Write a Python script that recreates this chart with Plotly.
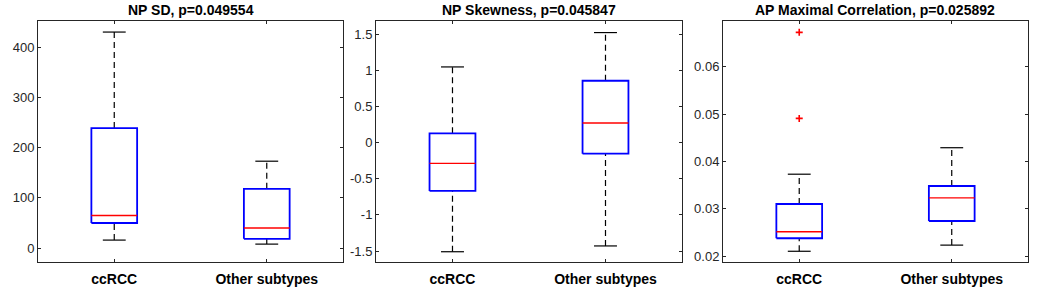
import plotly.graph_objects as go

categories = ["ccRCC", "Other subtypes"]
titles = ["NP SD, p=0.049554", "NP Skewness, p=0.045847", "AP Maximal Correlation, p=0.025892"]

# per panel: [ccRCC, Other]
sd_lower = [16, 8]
sd_q1 = [50, 18.5]
sd_median = [65, 40]
sd_q3 = [239, 118]
sd_upper = [430, 173]

sk_lower = [-1.51, -1.43]
sk_q1 = [-0.67, -0.155]
sk_median = [-0.288, 0.27]
sk_q3 = [0.127, 0.854]
sk_upper = [1.045, 1.52]

ap_lower = [0.0210, 0.0223]
ap_q1 = [0.02375, 0.0274]
ap_median = [0.02514, 0.0323]
ap_q3 = [0.0310, 0.0348]
ap_upper = [0.0373, 0.0429]
ap_outliers_x = [1, 1]
ap_outliers_y = [0.0673, 0.0491]

sd_ticks = [0, 100, 200, 300, 400]
sk_ticks = [-1.5, -1, -0.5, 0, 0.5, 1, 1.5]
sk_ticktext = ["-1.5", "-1", "-0.5", "0", "0.5", "1", "1.5"]
ap_ticks = [0.02, 0.03, 0.04, 0.05, 0.06]

panels = [
    dict(lower=sd_lower, q1=sd_q1, med=sd_median, q3=sd_q3, upper=sd_upper,
         yrange=[-27.6, 452], ticks=sd_ticks, ticktext=[str(t) for t in sd_ticks]),
    dict(lower=sk_lower, q1=sk_q1, med=sk_median, q3=sk_q3, upper=sk_upper,
         yrange=[-1.652, 1.68], ticks=sk_ticks, ticktext=sk_ticktext),
    dict(lower=ap_lower, q1=ap_q1, med=ap_median, q3=ap_q3, upper=ap_upper,
         yrange=[0.01873, 0.0697], ticks=ap_ticks, ticktext=["0.02", "0.03", "0.04", "0.05", "0.06"]),
]

domains = [[0.0, 0.3081], [0.3414, 0.6505], [0.6919, 1.0]]
BW = 0.15   # box half width
CW = 0.075  # cap half width
FONT = "Liberation Sans, Arial, Helvetica, sans-serif"
FRAME = "#262626"

fig = go.Figure()
for i, p in enumerate(panels):
    ax = "" if i == 0 else str(i + 1)
    xr, yr = "x" + ax, "y" + ax
    for k in range(2):
        pos = k + 1
        # whiskers dashed
        wx = [pos, pos, None, pos, pos]
        wy = [p["q3"][k], p["upper"][k], None, p["lower"][k], p["q1"][k]]
        fig.add_trace(go.Scatter(x=wx, y=wy, mode="lines", xaxis=xr, yaxis=yr,
                                 line=dict(color="black", width=1.2, dash="6px,4px"),
                                 hoverinfo="skip", showlegend=False))
        # caps
        cx = [pos - CW, pos + CW, None, pos - CW, pos + CW]
        cy = [p["upper"][k], p["upper"][k], None, p["lower"][k], p["lower"][k]]
        fig.add_trace(go.Scatter(x=cx, y=cy, mode="lines", xaxis=xr, yaxis=yr,
                                 line=dict(color="black", width=1.2),
                                 hoverinfo="skip", showlegend=False))
        # box
        bx = [pos - BW, pos + BW, pos + BW, pos - BW, pos - BW]
        by = [p["q1"][k], p["q1"][k], p["q3"][k], p["q3"][k], p["q1"][k]]
        fig.add_trace(go.Scatter(x=bx, y=by, mode="lines", xaxis=xr, yaxis=yr,
                                 line=dict(color="#0000ff", width=1.8),
                                 hoverinfo="skip", showlegend=False))
        # median
        fig.add_trace(go.Scatter(x=[pos - BW, pos + BW], y=[p["med"][k], p["med"][k]],
                                 mode="lines", xaxis=xr, yaxis=yr,
                                 line=dict(color="#ff0000", width=1.4),
                                 hoverinfo="skip", showlegend=False))
    if i == 2:
        fig.add_trace(go.Scatter(x=ap_outliers_x, y=ap_outliers_y, mode="markers",
                                 xaxis=xr, yaxis=yr,
                                 marker=dict(symbol="cross-thin", size=5,
                                             line=dict(color="#ff0000", width=1.6)),
                                 hoverinfo="skip", showlegend=False))

    fig.update_layout(**{
        "xaxis" + ax: dict(domain=domains[i], range=[0.5, 2.5], tickvals=[1, 2],
                           ticktext=categories, ticks="inside", ticklen=3,
                           tickcolor=FRAME, mirror="ticks", showline=True,
                           linecolor=FRAME, linewidth=1, showgrid=False, zeroline=False,
                           anchor=yr, automargin=False, ticklabelstandoff=4,
                           tickfont=dict(family=FONT, size=14, color="black", weight="bold")),
        "yaxis" + ax: dict(range=p["yrange"], tickvals=p["ticks"], ticktext=p["ticktext"],
                           ticks="inside", ticklen=3, tickcolor=FRAME, mirror="ticks",
                           showline=True, linecolor=FRAME, linewidth=1, showgrid=False,
                           zeroline=False, anchor=xr, automargin=False,
                           tickfont=dict(family=FONT, size=13, color=FRAME)),
    })
    cx_paper = (domains[i][0] + domains[i][1]) / 2
    fig.add_annotation(text="<b>" + titles[i] + "</b>", xref="paper", yref="paper",
                       x=cx_paper, y=1.0, yanchor="bottom", xanchor="center",
                       showarrow=False, yshift=1,
                       font=dict(family=FONT, size=14, color="black"))

fig.update_layout(width=1039, height=293,
                  margin=dict(l=38, r=11, t=21, b=31),
                  paper_bgcolor="white", plot_bgcolor="white")

# remove the default page margin so the figure fills the 1039x293 window exactly
fig.write_html("out.html", config={"displayModeBar": False},
               post_script="document.body.style.margin='0';document.body.style.overflow='hidden';")
